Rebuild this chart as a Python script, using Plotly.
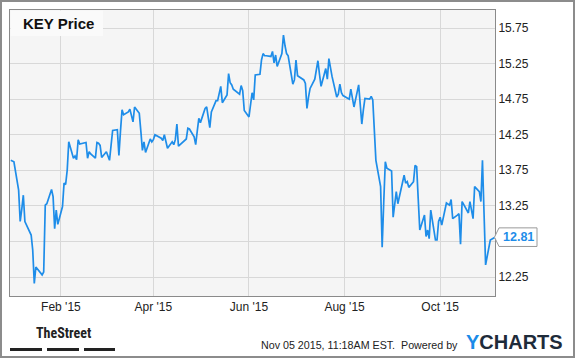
import pandas as pd
import plotly.graph_objects as go

# ---- data (closing prices) ----
dec_2014 = [13.89]
jan = [13.87, 13.47, 13.03, 13.20, 13.40, 13.03, 12.89, 12.84, 12.63, 12.16,
       12.39, 12.28, 12.32, 13.26, 13.28, 13.48, 13.38, 12.93, 13.19, 12.99]
feb = [13.24, 13.57, 13.55, 13.75, 14.15, 13.92, 13.95, 13.90, 14.18, 14.12,
       14.14, 13.92, 14.01, 13.98, 13.92, 14.14, 14.13, 14.10, 13.93]
mar = [14.01, 13.95, 13.89, 14.10, 14.31, 14.32, 13.96, 14.30, 14.60, 14.53,
       14.57, 14.61, 14.50, 14.43, 14.64, 14.55, 14.30, 14.03, 14.15, 14.00,
       14.19, 14.15]
apr = [14.18, 14.25, 14.20, 14.17, 14.25, 14.15, 14.06, 14.15, 14.11, 14.18,
       14.40, 14.09, 14.15, 14.17, 14.19, 14.34, 14.33, 14.22, 14.11, 14.30,
       14.48]
may = [14.42, 14.62, 14.64, 14.50, 14.35, 14.57, 14.73, 14.73, 14.85, 14.93,
       14.70, 14.81, 15.11, 14.98, 14.95, 14.89, 14.82, 14.94, 14.87, 14.59]
jun = [14.50, 14.70, 14.84, 14.74, 15.09, 15.10, 15.30, 15.39, 15.36, 15.36,
       15.35, 15.42, 15.26, 15.37, 15.21, 15.39, 15.65, 15.50, 15.39, 15.36,
       14.96, 15.02]
jul = [15.30, 15.08, 15.02, 14.97, 14.62, 14.78, 14.90, 15.03, 15.15, 15.29,
       15.10, 14.93, 15.18, 15.03, 15.32, 15.18, 15.07, 14.78, 14.82, 14.96,
       14.84, 14.80]
aug = [14.76, 14.75, 14.89, 14.75, 14.64, 14.95, 14.65, 14.40, 14.60, 14.76,
       14.75, 14.79, 14.74, 14.30, 13.89, 13.52, 12.67, 13.30, 13.87, 13.78,
       13.74]
sep = [13.09, 13.30, 13.45, 13.28, 13.68, 13.57, 13.59, 13.51, 13.59, 13.82,
       13.80, 13.35, 12.91, 13.12, 12.82, 12.91, 12.79, 13.19, 12.77, 12.77,
       13.03]
oct_ = [13.09, 12.98, 13.29, 13.28, 13.26, 13.34, 13.07, 13.12, 13.14, 12.71,
        13.31, 13.27, 13.15, 13.31, 13.19, 13.07, 13.52, 13.45, 13.31, 13.89,
        13.15, 12.42]
nov = [12.77, 12.78, 12.79, 12.81]

prices = dec_2014 + jan + feb + mar + apr + may + jun + jul + aug + sep + oct_ + nov

holidays = ["2015-01-01", "2015-01-19", "2015-02-16", "2015-04-03",
            "2015-05-25", "2015-07-03", "2015-09-07"]
dates = pd.bdate_range("2014-12-31", "2015-11-05").drop(pd.to_datetime(holidays))
assert len(dates) == len(prices), (len(dates), len(prices))

y_ticks = [12.25, 12.75, 13.25, 13.75, 14.25, 14.75, 15.25, 15.75]
y_labels = ["12.25", "", "13.25", "13.75", "14.25", "14.75", "15.25", "15.75"]

title_text = "KEY Price"
footer_left = "TheStreet"
footer_right = "Nov 05 2015, 11:18AM EST.  Powered by"

LINE = "#1e8de9"
FONT = "Liberation Sans, Arial, sans-serif"

# ---- geometry helpers (pixels -> paper) ----
W, H = 575, 358
ML, MR, MT, MB = 10, 80, 10, 62
PW, PH = W - ML - MR, H - MT - MB


def px(x):
    return (x - ML) / PW


def py(y):
    return (H - MB - y) / PH


fig = go.Figure()
fig.add_trace(go.Scatter(x=dates, y=prices, mode="lines",
                         line=dict(color=LINE, width=1.7), hoverinfo="skip"))

fig.update_layout(
    width=W, height=H,
    margin=dict(l=ML, r=MR, t=MT, b=MB, pad=0),
    paper_bgcolor="white",
    plot_bgcolor="#f5f5f5",
    showlegend=False,
    font=dict(family=FONT, size=12, color="#222"),
    xaxis=dict(
        range=["2014-12-30 12:00", "2015-11-05"],
        tick0="2015-02-01", dtick="M2", tickformat="%b '%y",
        showgrid=True, gridcolor="#d8d8d8", gridwidth=1,
        showline=True, linecolor="#8a8a8a", linewidth=1, mirror=True,
        ticks="", zeroline=False, fixedrange=True,
        tickfont=dict(size=12, color="#222"),
    ),
    yaxis=dict(
        range=[11.983, 16.003], side="right",
        tickvals=y_ticks, ticktext=y_labels,
        showgrid=True, gridcolor="#d8d8d8", gridwidth=1,
        showline=True, linecolor="#8a8a8a", linewidth=1, mirror=True,
        ticks="", zeroline=False, fixedrange=True,
        tickfont=dict(size=12, color="#222"),
    ),
)

shapes = []
# outer frame
shapes.append(dict(type="rect", xref="paper", yref="paper",
                   x0=px(1), x1=px(574), y0=py(357), y1=py(1),
                   line=dict(color="#8c8c8c", width=2), fillcolor="rgba(0,0,0,0)",
                   layer="above"))
# title box
shapes.append(dict(type="rect", xref="paper", yref="paper",
                   x0=px(10.6), x1=px(103), y0=py(36), y1=py(10.6),
                   line=dict(width=0), fillcolor="#fafafa", layer="above"))
# TheStreet bars
for a, b in [(10, 42), (47, 79), (84, 115)]:
    shapes.append(dict(type="rect", xref="paper", yref="paper",
                       x0=px(a), x1=px(b), y0=py(351), y1=py(348),
                       line=dict(width=0), fillcolor="#222", layer="above"))

# last value callout (anchored to the last price on the y axis)
last = prices[-1]
unit = (16.003 - 11.983) / PH  # data units per pixel
hh = 9.3 * unit
xl, xr, xt = px(499), px(537), px(494.5)
path = (f"M {xt},{last} L {xl},{last + hh} L {xr},{last + hh} "
        f"L {xr},{last - hh} L {xl},{last - hh} Z")
shapes.append(dict(type="path", xref="paper", yref="y", path=path,
                   fillcolor="white", line=dict(color="#9a9a9a", width=1),
                   layer="above"))
fig.update_layout(shapes=shapes)

annotations = [
    dict(text=f"<b>{title_text}</b>", xref="paper", yref="paper",
         x=px(21), y=py(23.5), xanchor="left", yanchor="middle",
         showarrow=False, font=dict(family=FONT, size=15, color="#111")),
    dict(text=f"<b>{last:.2f}</b>", xref="paper", yref="y",
         x=(xl + xr) / 2, y=last, xanchor="center", yanchor="middle",
         showarrow=False, font=dict(family=FONT, size=12.5, color=LINE)),
    dict(text=f"<b>{footer_left}</b>", xref="paper", yref="paper",
         x=px(63), y=py(333), xanchor="center", yanchor="middle",
         showarrow=False,
         font=dict(family="Liberation Sans Narrow, Arial Narrow, Roboto Condensed, Liberation Sans, sans-serif",
                   size=14, color="#222")),
    dict(text=footer_right, xref="paper", yref="paper",
         x=px(460), y=py(345), xanchor="right", yanchor="middle",
         showarrow=False, font=dict(family=FONT, size=10.7, color="#222")),
    dict(text="<b><span style='color:#1a8be8'>Y</span>CHARTS</b>",
         xref="paper", yref="paper",
         x=px(464), y=py(342), xanchor="left", yanchor="middle",
         showarrow=False, font=dict(family=FONT, size=20, color="#1e2b3a")),
]
fig.update_layout(annotations=annotations)

fig.write_html("out.html")
